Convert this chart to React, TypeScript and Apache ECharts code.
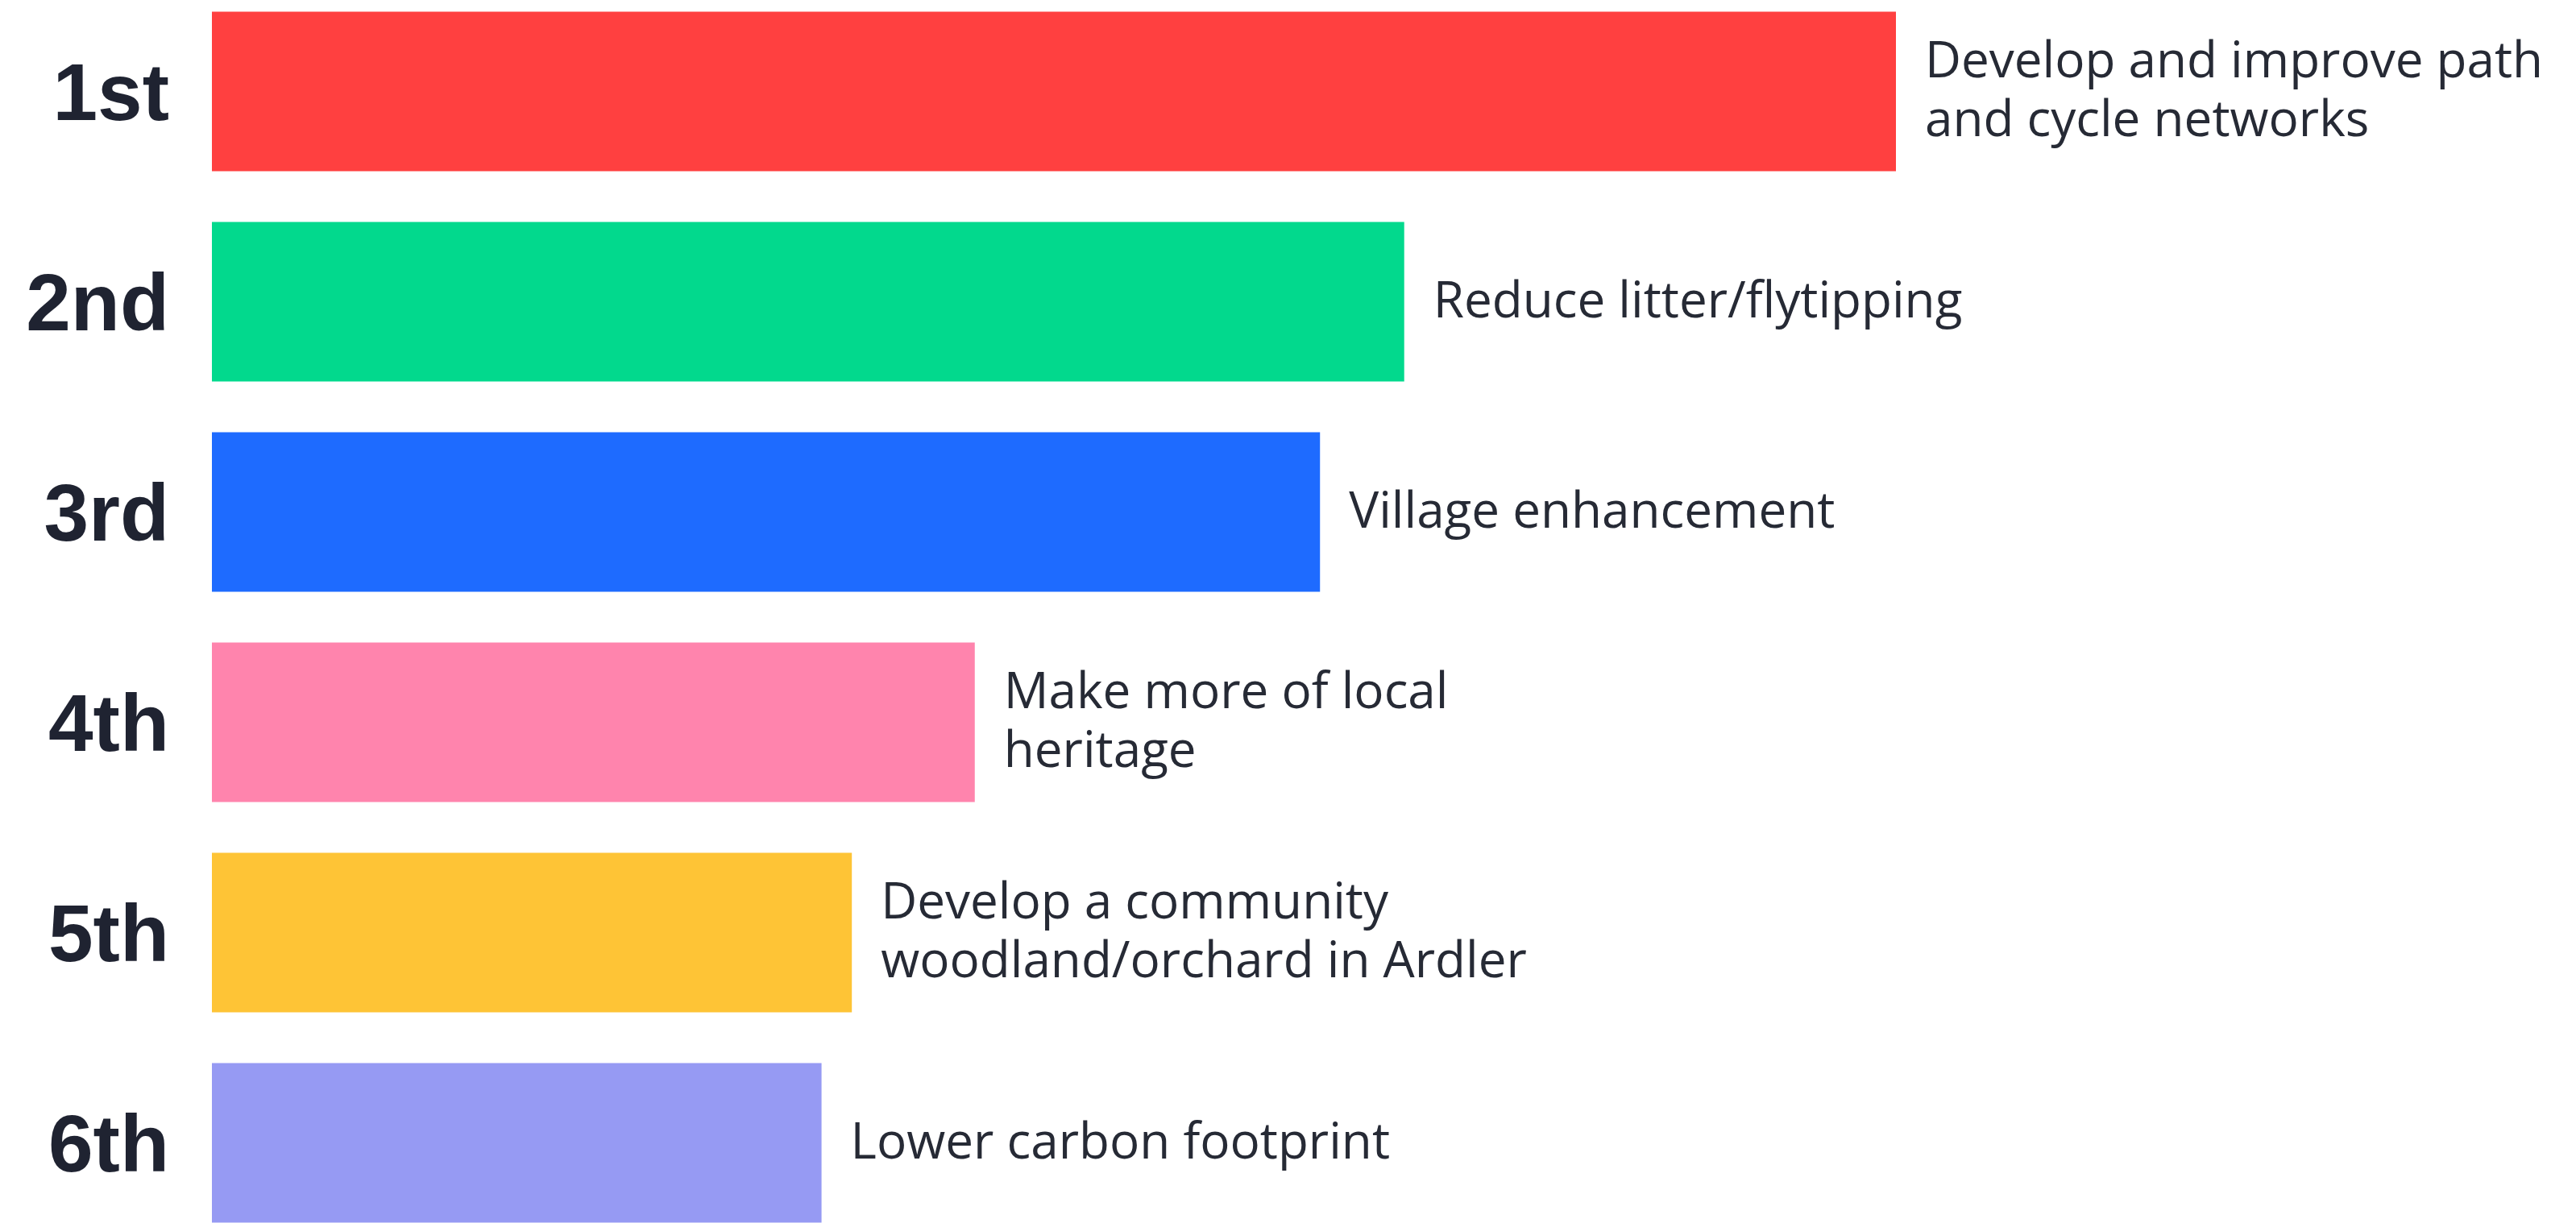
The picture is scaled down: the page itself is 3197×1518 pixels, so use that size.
import React, { useEffect, useRef } from "react";
import * as echarts from "echarts";

const ranks = ["1st", "2nd", "3rd", "4th", "5th", "6th"];
const priorities = [
  "Develop and improve path\nand cycle networks",
  "Reduce litter/flytipping",
  "Village enhancement",
  "Make more of local\nheritage",
  "Develop a community\nwoodland/orchard in Ardler",
  "Lower carbon footprint",
];
const scores = [100, 70.8, 65.8, 45.3, 38.0, 36.2];
const barColors = ["#FF4040", "#02D98D", "#1E6BFF", "#FF84AD", "#FEC436", "#969AF3"];

export default function App() {
  const ref = useRef<HTMLDivElement>(null);
  useEffect(() => {
    if (!ref.current) return;
    const chart = echarts.init(ref.current, undefined, { renderer: "svg" });
    chart.setOption({
      animation: false,
      backgroundColor: "#ffffff",
      grid: { left: 263, right: 426, top: 0, bottom: 0, containLabel: false },
      xAxis: {
        type: "value",
        min: 0,
        max: 120,
        show: false,
      },
      yAxis: {
        type: "category",
        inverse: true,
        data: ranks,
        axisLine: { show: false },
        axisTick: { show: false },
        splitLine: { show: false },
        axisLabel: {
          margin: 53,
          fontSize: 100,
          fontWeight: "bold",
          fontFamily: "Liberation Sans",
          color: "#1F2331",
        },
      },
      series: [
        {
          type: "bar",
          barWidth: 198,
          data: scores.map((v, i) => ({
            value: v,
            itemStyle: { color: barColors[i] },
            label: { formatter: priorities[i] },
          })),
          label: {
            show: true,
            position: "right",
            distance: 36,
            offset: [0, -5],
            fontSize: 62,
            lineHeight: 73,
            fontFamily: "Open Sans",
            color: "#262A35",
          },
        },
      ],
    });
    return () => chart.dispose();
  }, []);
  return (
    <div style={{ position: "fixed", left: 0, top: 0, width: 3197, height: 1518, overflow: "hidden", background: "#fff" }}>
      <div
        ref={ref}
        style={{ position: "absolute", left: 0, top: -17, width: 3197, height: 1566 }}
      />
    </div>
  );
}
